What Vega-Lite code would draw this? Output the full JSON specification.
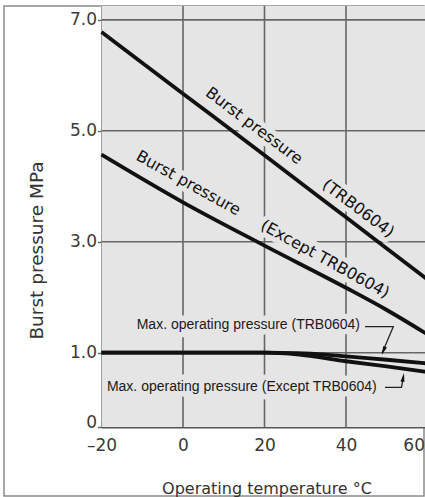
{
  "$schema": "https://vega.github.io/schema/vega-lite/v6.json",
  "width": 420,
  "height": 490,
  "autosize": "none",
  "padding": {"left": 4, "top": 6, "right": 1, "bottom": 1},
  "background": "white",
  "config": {"view": {"stroke": "#8a8a8a", "strokeWidth": 1.5, "fill": "white"}},
  "datasets": {
    "bg": [{"t": -20, "t2": 60, "p": 0, "p2": 7.25}],
    "grid": [
      {"t": 0, "t2": 0, "p": 0, "p2": 7.25},
      {"t": 20, "t2": 20, "p": 0, "p2": 7.25},
      {"t": 40, "t2": 40, "p": 0, "p2": 7.25},
      {"t": 60, "t2": 60, "p": 0, "p2": 7.25},
      {"t": -20, "t2": 60, "p": 1, "p2": 1},
      {"t": -20, "t2": 60, "p": 3, "p2": 3},
      {"t": -20, "t2": 60, "p": 5, "p2": 5},
      {"t": -20, "t2": 60, "p": 7, "p2": 7}
    ],
    "curves": [
      {"series": "Burst pressure (TRB0604)", "t": -20, "p": 6.78},
      {"series": "Burst pressure (TRB0604)", "t": 0, "p": 5.67},
      {"series": "Burst pressure (TRB0604)", "t": 20, "p": 4.56},
      {"series": "Burst pressure (TRB0604)", "t": 40, "p": 3.44},
      {"series": "Burst pressure (TRB0604)", "t": 60, "p": 2.32},
      {"series": "Burst pressure (Except TRB0604)", "t": -20, "p": 4.57},
      {"series": "Burst pressure (Except TRB0604)", "t": 0, "p": 3.71},
      {"series": "Burst pressure (Except TRB0604)", "t": 20, "p": 2.93},
      {"series": "Burst pressure (Except TRB0604)", "t": 40, "p": 2.17},
      {"series": "Burst pressure (Except TRB0604)", "t": 50, "p": 1.77},
      {"series": "Burst pressure (Except TRB0604)", "t": 60, "p": 1.33},
      {"series": "Max. operating pressure (TRB0604)", "t": -20, "p": 1.0},
      {"series": "Max. operating pressure (TRB0604)", "t": 0, "p": 1.0},
      {"series": "Max. operating pressure (TRB0604)", "t": 20, "p": 1.0},
      {"series": "Max. operating pressure (TRB0604)", "t": 28, "p": 0.995},
      {"series": "Max. operating pressure (TRB0604)", "t": 35, "p": 0.975},
      {"series": "Max. operating pressure (TRB0604)", "t": 40, "p": 0.95},
      {"series": "Max. operating pressure (TRB0604)", "t": 50, "p": 0.905},
      {"series": "Max. operating pressure (TRB0604)", "t": 60, "p": 0.855},
      {"series": "Max. operating pressure (Except TRB0604)", "t": -20, "p": 1.0},
      {"series": "Max. operating pressure (Except TRB0604)", "t": 0, "p": 1.0},
      {"series": "Max. operating pressure (Except TRB0604)", "t": 20, "p": 1.0},
      {"series": "Max. operating pressure (Except TRB0604)", "t": 25, "p": 0.99},
      {"series": "Max. operating pressure (Except TRB0604)", "t": 30, "p": 0.965},
      {"series": "Max. operating pressure (Except TRB0604)", "t": 40, "p": 0.885},
      {"series": "Max. operating pressure (Except TRB0604)", "t": 50, "p": 0.815},
      {"series": "Max. operating pressure (Except TRB0604)", "t": 60, "p": 0.74}
    ],
    "leaders": [
      {"leg": "a", "ord": 1, "t": 44.66, "p": 1.469},
      {"leg": "a", "ord": 2, "t": 51.6, "p": 1.469},
      {"leg": "a", "ord": 3, "t": 48.9, "p": 1.0},
      {"leg": "b", "ord": 1, "t": 49.57, "p": 0.532},
      {"leg": "b", "ord": 2, "t": 53.62, "p": 0.532},
      {"leg": "b", "ord": 3, "t": 54.1, "p": 0.68}
    ],
    "arrowA": [{"t": 49.18, "p": 1.034}],
    "arrowB": [{"t": 54.04, "p": 0.668}],
    "maxlab": [
      {"t": 43.44, "p": 1.5, "label": "Max. operating pressure (TRB0604)"},
      {"t": 47.53, "p": 0.542, "label": "Max. operating pressure (Except TRB0604)"}
    ],
    "upperlab": [
      {"t": 17.42, "p": 5.09, "label": "Burst pressure"},
      {"t": 43.0, "p": 3.6, "label": "(TRB0604)"}
    ],
    "lowerlab": [
      {"t": 1.3, "p": 4.055, "label": "Burst pressure"},
      {"t": 34.85, "p": 2.686, "label": "(Except  TRB0604)"}
    ]
  },
  "encoding": {
    "x": {
      "field": "t", "type": "quantitative",
      "scale": {"domain": [-20, 60], "range": [97.5, 423.5], "nice": false, "zero": false},
      "axis": {
        "orient": "bottom", "offset": -69,
        "values": [-20, 0, 20, 40, 60],
        "labelExpr": "datum.value < 0 ? '–' + abs(datum.value) : '' + datum.value",
        "grid": false, "ticks": false, "tickSize": 0,
        "domain": true, "domainColor": "#555555", "domainWidth": 2,
        "labelFont": "DejaVu Sans", "labelFontSize": 17, "labelColor": "#3a3a3a",
        "labelPadding": 10, "labelFlush": false, "labelOverlap": false,
        "labelAlign": {"expr": "datum.value == 60 ? 'right' : 'center'"},
        "labelOffset": {"expr": "datum.value == 60 ? -3 : 0"},
        "title": "Operating temperature °C",
        "titleFont": "DejaVu Sans", "titleFontSize": 16, "titleFontWeight": "normal", "titleColor": "#333333",
        "titleX": 262.5, "titleY": 66.5, "titleBaseline": "alphabetic", "titleAlign": "center"
      }
    },
    "y": {
      "field": "p", "type": "quantitative",
      "scale": {"domain": [0, 1, 7.25], "range": [421, 346.7, 0], "nice": false, "zero": false},
      "axis": {
        "orient": "left", "offset": -97.5,
        "values": [0, 1, 3, 5, 7],
        "labelExpr": "datum.value == 0 ? '0' : format(datum.value, '.1f')",
        "grid": false, "ticks": true, "tickSize": 4, "tickColor": "#666666", "tickWidth": 1.5,
        "domain": true, "domainColor": "#555555", "domainWidth": 2,
        "labelFont": "DejaVu Sans", "labelFontSize": 17, "labelColor": "#3a3a3a",
        "labelPadding": 1, "labelOverlap": false,
        "labelBaseline": {"condition": {"test": "datum.value == 0", "value": "alphabetic"}, "value": "middle"},
        "title": "Burst pressure MPa",
        "titleFont": "DejaVu Sans", "titleFontSize": 18.5, "titleFontWeight": "normal", "titleColor": "#333333",
        "titleAngle": 270, "titleX": -65.5, "titleY": 244, "titleBaseline": "middle", "titleAlign": "center"
      }
    }
  },
  "layer": [
    {
      "data": {"name": "bg"},
      "mark": {"type": "rect", "fill": "#e5e5e5"},
      "encoding": {"x2": {"field": "t2"}, "y2": {"field": "p2"}}
    },
    {
      "data": {"name": "grid"},
      "mark": {"type": "rule", "color": "#666666", "strokeWidth": 1.6},
      "encoding": {"x2": {"field": "t2"}, "y2": {"field": "p2"}}
    },
    {
      "data": {"name": "maxlab"},
      "mark": {"type": "text", "align": "right", "baseline": "middle", "font": "Liberation Sans", "fontSize": 14, "fill": "#e5e5e5", "stroke": "#e5e5e5", "strokeWidth": 11, "strokeJoin": "round"},
      "encoding": {"text": {"field": "label"}}
    },
    {
      "data": {"name": "upperlab"},
      "mark": {"type": "text", "align": "center", "baseline": "middle", "angle": 37, "font": "DejaVu Sans", "fontSize": 16, "fill": "#e5e5e5", "stroke": "#e5e5e5", "strokeWidth": 10, "strokeJoin": "round"},
      "encoding": {"text": {"field": "label"}}
    },
    {
      "data": {"name": "lowerlab"},
      "mark": {"type": "text", "align": "center", "baseline": "middle", "angle": 29, "font": "DejaVu Sans", "fontSize": 16, "fill": "#e5e5e5", "stroke": "#e5e5e5", "strokeWidth": 10, "strokeJoin": "round"},
      "encoding": {"text": {"field": "label"}}
    },
    {
      "data": {"name": "curves"},
      "mark": {"type": "line", "color": "#111111", "strokeWidth": 3.8, "interpolate": "monotone"},
      "encoding": {"detail": {"field": "series"}}
    },
    {
      "data": {"name": "leaders"},
      "mark": {"type": "line", "color": "#222222", "strokeWidth": 1.3},
      "encoding": {"detail": {"field": "leg"}, "order": {"field": "ord"}}
    },
    {
      "data": {"name": "arrowA"},
      "mark": {"type": "point", "shape": "M0,-1L0.45,1L-0.45,1Z", "filled": true, "size": 80, "color": "#111111", "opacity": 1, "angle": 202.3},
      "encoding": {}
    },
    {
      "data": {"name": "arrowB"},
      "mark": {"type": "point", "shape": "M0,-1L0.45,1L-0.45,1Z", "filled": true, "size": 80, "color": "#111111", "opacity": 1, "angle": 9.8},
      "encoding": {}
    },
    {
      "data": {"name": "maxlab"},
      "mark": {"type": "text", "align": "right", "baseline": "middle", "font": "Liberation Sans", "fontSize": 14, "fill": "#1a1a1a"},
      "encoding": {"text": {"field": "label"}}
    },
    {
      "data": {"name": "upperlab"},
      "mark": {"type": "text", "align": "center", "baseline": "middle", "angle": 37, "font": "DejaVu Sans", "fontSize": 16, "fill": "#111111"},
      "encoding": {"text": {"field": "label"}}
    },
    {
      "data": {"name": "lowerlab"},
      "mark": {"type": "text", "align": "center", "baseline": "middle", "angle": 29, "font": "DejaVu Sans", "fontSize": 16, "fill": "#111111"},
      "encoding": {"text": {"field": "label"}}
    }
  ]
}
